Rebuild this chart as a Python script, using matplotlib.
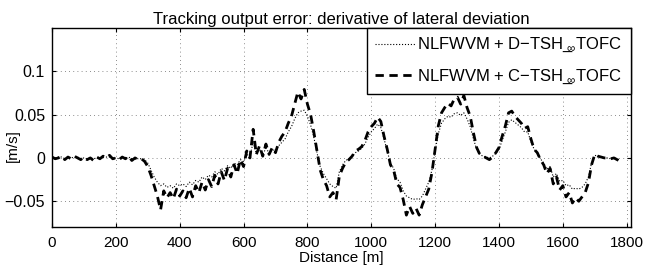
import numpy as np
import matplotlib
matplotlib.use("Agg")
import matplotlib.pyplot as plt

plt.rcParams['font.family'] = ['Liberation Sans', 'DejaVu Sans']
plt.rcParams['mathtext.fontset'] = 'custom'
plt.rcParams['mathtext.rm'] = 'Liberation Sans'

# distance samples every 10 m, 0 .. 1780 m
distance = np.arange(0, 1790, 10)

# NLFWVM + D-TSH_inf_TOFC (dotted)
err_d = [
    0.001, 0.000, 0.001, 0.001, -0.001, 0.000, 0.000, 0.001, 0.001, -0.001,
    0.000, -0.001, 0.000, -0.001, 0.000, 0.000, 0.001, 0.001, 0.001, 0.000,
    0.000, -0.001, 0.000, 0.000, 0.001, -0.001, 0.000, -0.001, -0.001, -0.002,
    -0.006, -0.014, -0.022, -0.028, -0.032, -0.030, -0.034, -0.032, -0.035, -0.030,
    -0.032, -0.030, -0.033, -0.028, -0.031, -0.026, -0.028, -0.022, -0.025, -0.020,
    -0.022, -0.016, -0.019, -0.012, -0.015, -0.009, -0.012, -0.006, -0.008, -0.002,
    -0.004, 0.004, 0.002, 0.018, 0.005, 0.010, 0.004, 0.011, 0.006, 0.010,
    0.008, 0.014, 0.018, 0.022, 0.030, 0.036, 0.045, 0.052, 0.054, 0.055,
    0.048, 0.038, 0.024, 0.006, -0.010, -0.018, -0.024, -0.030, -0.033, -0.035,
    -0.016, -0.008, -0.003, -0.001, 0.002, 0.006, 0.008, 0.011, 0.016, 0.024,
    0.030, 0.034, 0.039, 0.035, 0.022, 0.008, -0.006, -0.012, -0.024, -0.028,
    -0.038, -0.044, -0.046, -0.048, -0.047, -0.048, -0.044, -0.036, -0.028, -0.014,
    0.008, 0.028, 0.040, 0.045, 0.048, 0.047, 0.051, 0.052, 0.049, 0.052,
    0.045, 0.036, 0.022, 0.010, 0.004, 0.002, 0.001, 0.000, 0.002, 0.005,
    0.010, 0.020, 0.030, 0.041, 0.044, 0.041, 0.038, 0.035, 0.030, 0.030,
    0.019, 0.010, 0.005, -0.001, -0.006, -0.013, -0.010, -0.022, -0.018, -0.027,
    -0.026, -0.032, -0.031, -0.036, -0.035, -0.036, -0.034, -0.030, -0.022, -0.006,
    0.003, 0.002, 0.001, 0.000, 0.000, -0.001, 0.000, -0.001, -0.003,
]

# NLFWVM + C-TSH_inf_TOFC (dashed)
err_c = [
    0.001, -0.001, 0.000, 0.002, -0.002, 0.001, -0.001, 0.002, 0.000, -0.002,
    0.001, -0.002, 0.000, -0.003, 0.001, -0.001, 0.002, 0.000, 0.003, -0.001,
    0.000, -0.002, 0.001, -0.001, 0.002, -0.003, 0.000, -0.002, -0.001, -0.004,
    -0.010, -0.020, -0.032, -0.044, -0.060, -0.038, -0.046, -0.040, -0.047, -0.036,
    -0.044, -0.038, -0.046, -0.035, -0.045, -0.032, -0.040, -0.028, -0.037, -0.025,
    -0.033, -0.020, -0.030, -0.016, -0.026, -0.012, -0.022, -0.008, -0.018, -0.002,
    -0.010, 0.008, 0.000, 0.033, 0.004, 0.014, 0.002, 0.016, 0.004, 0.012,
    0.006, 0.018, 0.025, 0.030, 0.040, 0.048, 0.062, 0.076, 0.068, 0.079,
    0.062, 0.050, 0.030, 0.008, -0.014, -0.025, -0.032, -0.045, -0.040, -0.048,
    -0.021, -0.012, -0.005, -0.002, 0.002, 0.008, 0.010, 0.013, 0.020, 0.030,
    0.036, 0.040, 0.047, 0.042, 0.025, 0.010, -0.008, -0.014, -0.030, -0.034,
    -0.048, -0.066, -0.056, -0.064, -0.058, -0.066, -0.054, -0.045, -0.036, -0.017,
    0.010, 0.037, 0.052, 0.058, 0.063, 0.060, 0.068, 0.070, 0.062, 0.072,
    0.058, 0.048, 0.029, 0.012, 0.004, 0.002, 0.000, -0.002, 0.001, 0.006,
    0.012, 0.025, 0.037, 0.052, 0.054, 0.048, 0.044, 0.040, 0.034, 0.036,
    0.022, 0.010, 0.006, -0.002, -0.008, -0.018, -0.012, -0.030, -0.022, -0.037,
    -0.032, -0.045, -0.040, -0.052, -0.046, -0.050, -0.045, -0.040, -0.029, -0.008,
    0.004, 0.002, 0.001, 0.000, 0.000, -0.001, 0.000, -0.002, -0.004,
]

x_ticks = [0, 200, 400, 600, 800, 1000, 1200, 1400, 1600, 1800]
y_ticks = [-0.05, 0, 0.05, 0.1]
y_labels = ['\u22120.05', '0', '0.05', '0.1']

fig = plt.figure(figsize=(6.47, 2.68), dpi=100)
ax = fig.add_axes([0.0804, 0.152, 0.8946, 0.744])

ax.plot(distance, err_d, color='black', linestyle=':', linewidth=0.8,
        label='NLFWVM + D\u2212TSH$\\__{\\!\\!\\!\\infty}$TOFC')
ax.plot(distance, err_c, color='black', linestyle='--', linewidth=2.0,
        dashes=(3, 2), label='NLFWVM + C\u2212TSH$\\__{\\!\\!\\!\\infty}$TOFC')

ax.set_xlim(0, 1813)
ax.set_ylim(-0.08, 0.15)
ax.set_xticks(x_ticks)
ax.set_yticks(y_ticks)
ax.set_yticklabels(y_labels)
ax.tick_params(direction='in', top=True, right=True, labelsize=11, length=3, pad=6)
ax.tick_params(axis='y', labelsize=11.5, pad=5)
ax.grid(True, linestyle=(0, (1, 4)), color='black', linewidth=0.6, alpha=0.6)
for s in ax.spines.values():
    s.set_linewidth(1.0)

ax.set_title('Tracking output error: derivative of lateral deviation', fontsize=12, pad=3)
ax.set_xlabel('Distance [m]', fontsize=11)
ax.xaxis.set_label_coords(0.5, -0.155)
ax.xaxis.label.set_va('center')
ax.set_ylabel('[m/s]', fontsize=11)
ax.yaxis.set_label_coords(-0.068, 0.41)
ax.yaxis.label.set_va('center')

leg = ax.legend(loc='upper right', borderaxespad=0, fancybox=False, edgecolor='black',
                fontsize=12, handlelength=2.4, handletextpad=0.15, borderpad=0.5,
                labelspacing=0.8, framealpha=1)
leg.get_frame().set_linewidth(1.0)

fig.savefig('out.png', dpi=100)
